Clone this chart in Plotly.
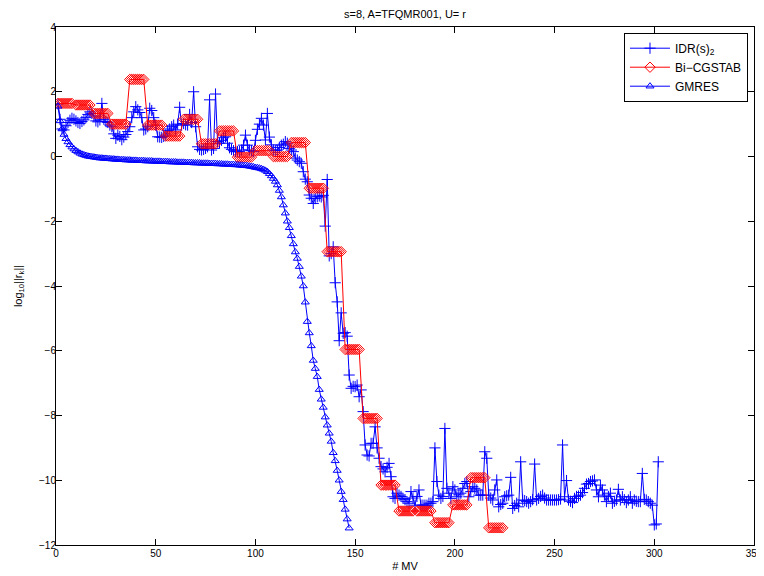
import plotly.graph_objects as go

# ---------------- data ----------------
idr_vals = [
    1.62, 1.15, 0.85, 0.82, 0.95, 1.05, 1.12, 1.18, 1.15, 1.10,
    1.05, 1.02, 1.08, 1.13, 1.20, 1.30, 1.38, 1.33, 1.25, 1.10,
    1.07, 1.13, 1.64, 1.15, 1.08, 1.05, 0.97, 0.92, 0.70, 0.56,
    0.66, 0.62, 0.52, 0.60, 0.68, 0.77, 0.92, 1.20, 1.38, 1.54,
    1.44, 1.36, 1.20, 0.82, 0.85, 0.92, 1.49, 1.42, 1.20, 0.97,
    0.61, 0.60, 0.59, 0.62, 0.66, 0.80, 0.85, 0.92, 0.97, 0.82,
    1.00, 1.52, 0.97, 1.02, 0.98, 0.97, 1.30, 1.05, 2.00, 0.92,
    0.30, 0.22, 0.20, 0.22, 0.25, 0.30, 1.75, 0.20, 0.25, 1.93,
    0.46, 0.41, 0.50, 0.58, 0.61, 0.41, 0.27, 0.22, 0.18, 0.15,
    0.15, 0.15, 0.20, 0.35, 0.66, 0.35, 0.20, 0.18, 0.15, 0.50,
    0.84, 1.00, 1.18, 0.97, 0.51, 1.33, 0.60, 0.36, 0.20, 0.18,
    0.20, 0.28, 0.35, 0.38, 0.46, 0.41, 0.25, 0.20, 0.15, -0.05,
    -0.11, -0.16, -0.21, -0.47, -0.70, -0.78, -1.19, -1.29, -1.45, -1.30,
    -1.24, -1.22, -1.25, -1.20, -2.15, -0.71, -3.07, -3.00, -2.79, -3.90,
    -4.49, -5.69, -4.83, -5.46, -5.44, -5.55, -6.75, -7.16, -7.10, -7.11,
    -7.06, -7.42, -7.21, -7.88, -8.91, -9.22, -9.25, -8.86, -8.86, -8.35,
    -9.00, -9.32, -9.58, -9.65, -9.74, -9.60, -9.48, -9.89, -10.51, -10.56,
    -10.40, -10.46, -10.50, -10.56, -10.60, -10.66, -10.71, -10.35, -10.55, -10.77,
    -10.50, -10.30, -10.77, -10.77, -10.77, -10.77, -10.71, -10.71, -10.66, -9.00,
    -10.04, -10.46, -10.56, -10.50, -8.40, -10.25, -10.40, -10.56, -10.20, -10.30,
    -10.51, -10.45, -10.40, -10.25, -10.10, -10.04, -10.51, -10.35, -10.20, -10.25,
    -10.30, -10.46, -10.46, -10.46, -9.12, -9.32, -10.46, -10.55, -10.61, -10.30,
    -9.99, -10.82, -10.75, -10.71, -10.51, -10.48, -10.46, -9.91, -10.87, -10.78,
    -10.71, -10.82, -9.43, -10.61, -10.63, -10.66, -10.71, -10.66, -10.60, -9.50,
    -10.61, -10.56, -10.50, -10.46, -10.55, -10.61, -10.61, -10.61, -10.61, -10.61,
    -10.61, -10.60, -10.58, -8.91, -10.51, -10.01, -10.61, -10.65, -10.69, -10.56,
    -10.50, -10.49, -10.46, -10.38, -10.25, -10.12, -10.10, -10.04, -10.02, -9.99,
    -10.30, -10.51, -10.15, -10.30, -10.46, -10.66, -10.50, -10.40, -10.71, -10.65,
    -10.61, -10.28, -10.61, -10.51, -10.60, -10.69, -10.61, -10.51, -10.71, -10.61,
    -10.65, -10.66, -10.66, -9.79, -10.59, -10.61, -10.66, -10.71, -10.77, -11.38,
    -11.35, -9.43,
]
idr_mv = list(range(1, len(idr_vals) + 1))

# Bi-CGSTAB: residual level held over each cycle of s+1 = 9 MVs (8 plotted points per cycle)
bicg_levels = [
    1.64, 1.59, 1.33, 1.00, 2.38, 0.97, 0.63, 1.15, 0.39, 0.79,
    -0.02, 0.18, 0.00, 0.43, -0.98, -2.94, -5.96, -8.09, -10.15, -10.95,
    -10.95, -11.31, -10.76, -9.92, -11.47,
]
bicg_cycle = 9
bicg_pts_per_cycle = 8
bicg_mv, bicg_vals = [], []
for k, lev in enumerate(bicg_levels):
    for j in range(1, bicg_pts_per_cycle + 1):
        bicg_mv.append(k * bicg_cycle + j)
        bicg_vals.append(lev)

gmres_vals = [
    1.55, 1.10, 0.85, 0.68, 0.55, 0.45, 0.36, 0.29, 0.23, 0.18,
    0.14, 0.10, 0.07, 0.05, 0.03, 0.01, 0.00, -0.01, -0.02, -0.03,
    -0.04, -0.05, -0.05, -0.06, -0.06, -0.07, -0.07, -0.08, -0.08, -0.09,
    -0.09, -0.10, -0.10, -0.10, -0.11, -0.11, -0.11, -0.12, -0.12, -0.12,
    -0.13, -0.13, -0.13, -0.13, -0.14, -0.14, -0.14, -0.14, -0.15, -0.15,
    -0.15, -0.15, -0.16, -0.16, -0.16, -0.16, -0.17, -0.17, -0.17, -0.17,
    -0.18, -0.18, -0.18, -0.18, -0.19, -0.19, -0.19, -0.19, -0.20, -0.20,
    -0.20, -0.20, -0.21, -0.21, -0.21, -0.21, -0.22, -0.22, -0.22, -0.22,
    -0.23, -0.23, -0.23, -0.24, -0.24, -0.24, -0.25, -0.25, -0.25, -0.26,
    -0.26, -0.27, -0.27, -0.28, -0.28, -0.29, -0.30, -0.31, -0.32, -0.34,
    -0.35, -0.36, -0.38, -0.40, -0.43, -0.47, -0.53, -0.60, -0.68, -0.77,
    -0.88, -1.05, -1.25, -1.50, -1.75, -2.00, -2.20, -2.45, -2.70, -2.95,
    -3.15, -3.40, -3.70, -4.00, -4.50, -5.10, -5.45, -5.85, -6.30, -6.55,
    -6.80, -7.20, -7.50, -7.75, -8.05, -8.30, -8.55, -8.80, -9.15, -9.40,
    -9.70, -10.00, -10.35, -10.60, -10.90, -11.20, -11.48,
]
gmres_mv = list(range(1, len(gmres_vals) + 1))

x_ticks = [0, 50, 100, 150, 200, 250, 300, 350]
y_ticks = [-12, -10, -8, -6, -4, -2, 0, 2, 4]

# ---------------- figure ----------------
FONT = "Liberation Sans, Arial, Helvetica, sans-serif"
BLUE = "rgb(0,0,255)"
RED = "rgb(255,0,0)"

fig = go.Figure()
fig.add_trace(go.Scatter(
    x=idr_mv, y=idr_vals, mode="lines+markers", name="IDR(s)<sub>2</sub>",
    line=dict(color=BLUE, width=1),
    marker=dict(symbol="cross-thin-open", size=8, color=BLUE, line=dict(color=BLUE, width=1)),
))
fig.add_trace(go.Scatter(
    x=bicg_mv, y=bicg_vals, mode="lines+markers", name="Bi\u2212CGSTAB",
    line=dict(color=RED, width=1),
    marker=dict(symbol="diamond-open", size=8, color=RED, line=dict(color=RED, width=1)),
))
fig.add_trace(go.Scatter(
    x=gmres_mv, y=gmres_vals, mode="lines+markers", name="GMRES",
    line=dict(color=BLUE, width=1),
    marker=dict(symbol="triangle-up-open", size=7, color=BLUE, line=dict(color=BLUE, width=1)),
))

axis_common = dict(
    showgrid=False, zeroline=False, showline=True, linecolor="black", linewidth=1,
    mirror="ticks", ticks="inside", ticklen=6, tickwidth=1, tickcolor="black",
    tickfont=dict(family=FONT, size=10, color="black"),
)

# page is offset by the default 8px body margin, so the figure is 8px smaller
fig.update_layout(
    width=756, height=568,
    paper_bgcolor="white", plot_bgcolor="white",
    margin=dict(l=48, r=10, t=19, b=31, autoexpand=False),
    font=dict(family=FONT, color="black"),
    title=dict(text="s=8, A=TFQMR001, U= r", x=0.5, xref="paper", xanchor="center",
               y=1 - 2 / 568, yref="container", yanchor="top", pad=dict(t=0, b=0),
               font=dict(family=FONT, size=11, color="black")),
    xaxis=dict(range=[0, 350], tickvals=x_ticks, ticklabelstandoff=-1,
               title=dict(text="# MV", font=dict(family=FONT, size=11), standoff=4),
               **axis_common),
    yaxis=dict(range=[-12, 4], tickvals=y_ticks, ticklabelstandoff=-3,
               title=dict(text="log<sub>10</sub>||r<sub>k</sub>||", font=dict(family=FONT, size=11), standoff=14),
               **axis_common),
    legend=dict(x=0.9914, xanchor="right", y=0.989, yanchor="top",
                bgcolor="white", bordercolor="black", borderwidth=1,
                font=dict(family=FONT, size=12, color="black"),
                tracegroupgap=0, itemwidth=40),
    showlegend=True,
)

fig.write_html("out.html")
